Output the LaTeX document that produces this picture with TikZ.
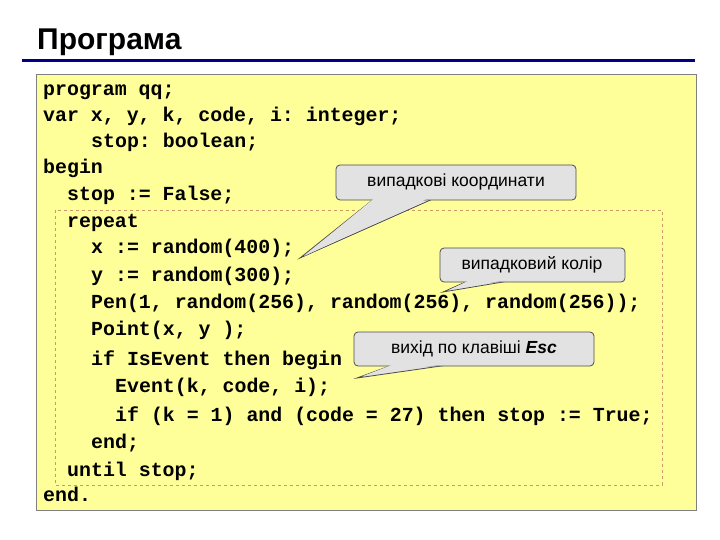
\documentclass[tikz,border=0pt]{standalone}
\usepackage{fontspec}
\setmainfont{Liberation Sans}
\setmonofont{Liberation Mono}
\begin{document}
\begin{tikzpicture}[x=1pt,y=-1pt]
\definecolor{yel}{HTML}{FFFF99}
\definecolor{cg}{HTML}{E2E2E2}
\definecolor{navy}{HTML}{000080}
\definecolor{dsh}{HTML}{CC9966}
\tikzset{code/.style={anchor=base west,inner sep=0,font=\fontsize{19.9}{20}\selectfont\ttfamily\bfseries},
 callbox/.style={draw=black!70,fill=cg,rounded corners=4,line width=0.8},
 calltxt/.style={font=\fontsize{17.5}{19}\selectfont,inner sep=0}}
\useasboundingbox (0,0) rectangle (720,540);
\fill[white] (0,0) rectangle (720,540);
\node[anchor=base west,inner sep=0,font=\fontsize{30}{31}\selectfont\bfseries] (title) at (37,50) {Програма};
\draw[navy,line width=3] (22,61) -- (695,61);
\draw[black!50,fill=yel,line width=0.8] (36,74) rectangle (696,510);
\draw[dsh,dashed,line width=0.7] (55,210) rectangle (662,485);
\foreach \y/\x/\t in {96/43/{program qq;},122/43/{var x, y, k, code, i: integer;},148/91/{stop: boolean;},174/43/{begin},201/67/{stop := False;},227/67/{repeat},254/91/{x := random(400);},281/91/{y := random(300);},308/91/{Pen(1, random(256), random(256), random(256));},335/91/{Point(x, y );},365/91/{if IsEvent then begin},392/115/{Event(k, code, i);},421/115/{if (k = 1) and (code = 27) then stop := True;},448/91/{end;},476/67/{until stop;},501/43/{end.}}
 \node[code] at (\x,\y) {\t};
% callout 1
\coordinate (t1) at (300,258);
\draw[callbox,rounded corners=0] (t1) -- (375,198) -- (435,198) -- cycle;
\draw[callbox] (336,165) rectangle (576,200);
\fill[cg] (t1) ++(4,-2) -- (377,196) -- (433,196) -- cycle;
\node[calltxt] (c1) at (456,182) {випадкові координати};
% callout 2
\coordinate (t2) at (443,292);
\draw[callbox,rounded corners=0] (t2) -- (470,280) -- (515,280) -- cycle;
\draw[callbox] (440,248) rectangle (625,282);
\fill[cg] (t2) ++(6,-2) -- (472,279) -- (512,279) -- cycle;
\node[calltxt] (c2) at (532,265) {випадковий колір};
% callout 3
\coordinate (t3) at (357,378);
\draw[callbox,rounded corners=0] (t3) -- (395,364) -- (455,364) -- cycle;
\draw[callbox] (354,332) rectangle (594,366);
\fill[cg] (t3) ++(6,-2) -- (397,363) -- (452,363) -- cycle;
\node[calltxt] (c3) at (474,349) {вихід по клавіші \textit{\textbf{Esc}}};
\end{tikzpicture}
\end{document}
